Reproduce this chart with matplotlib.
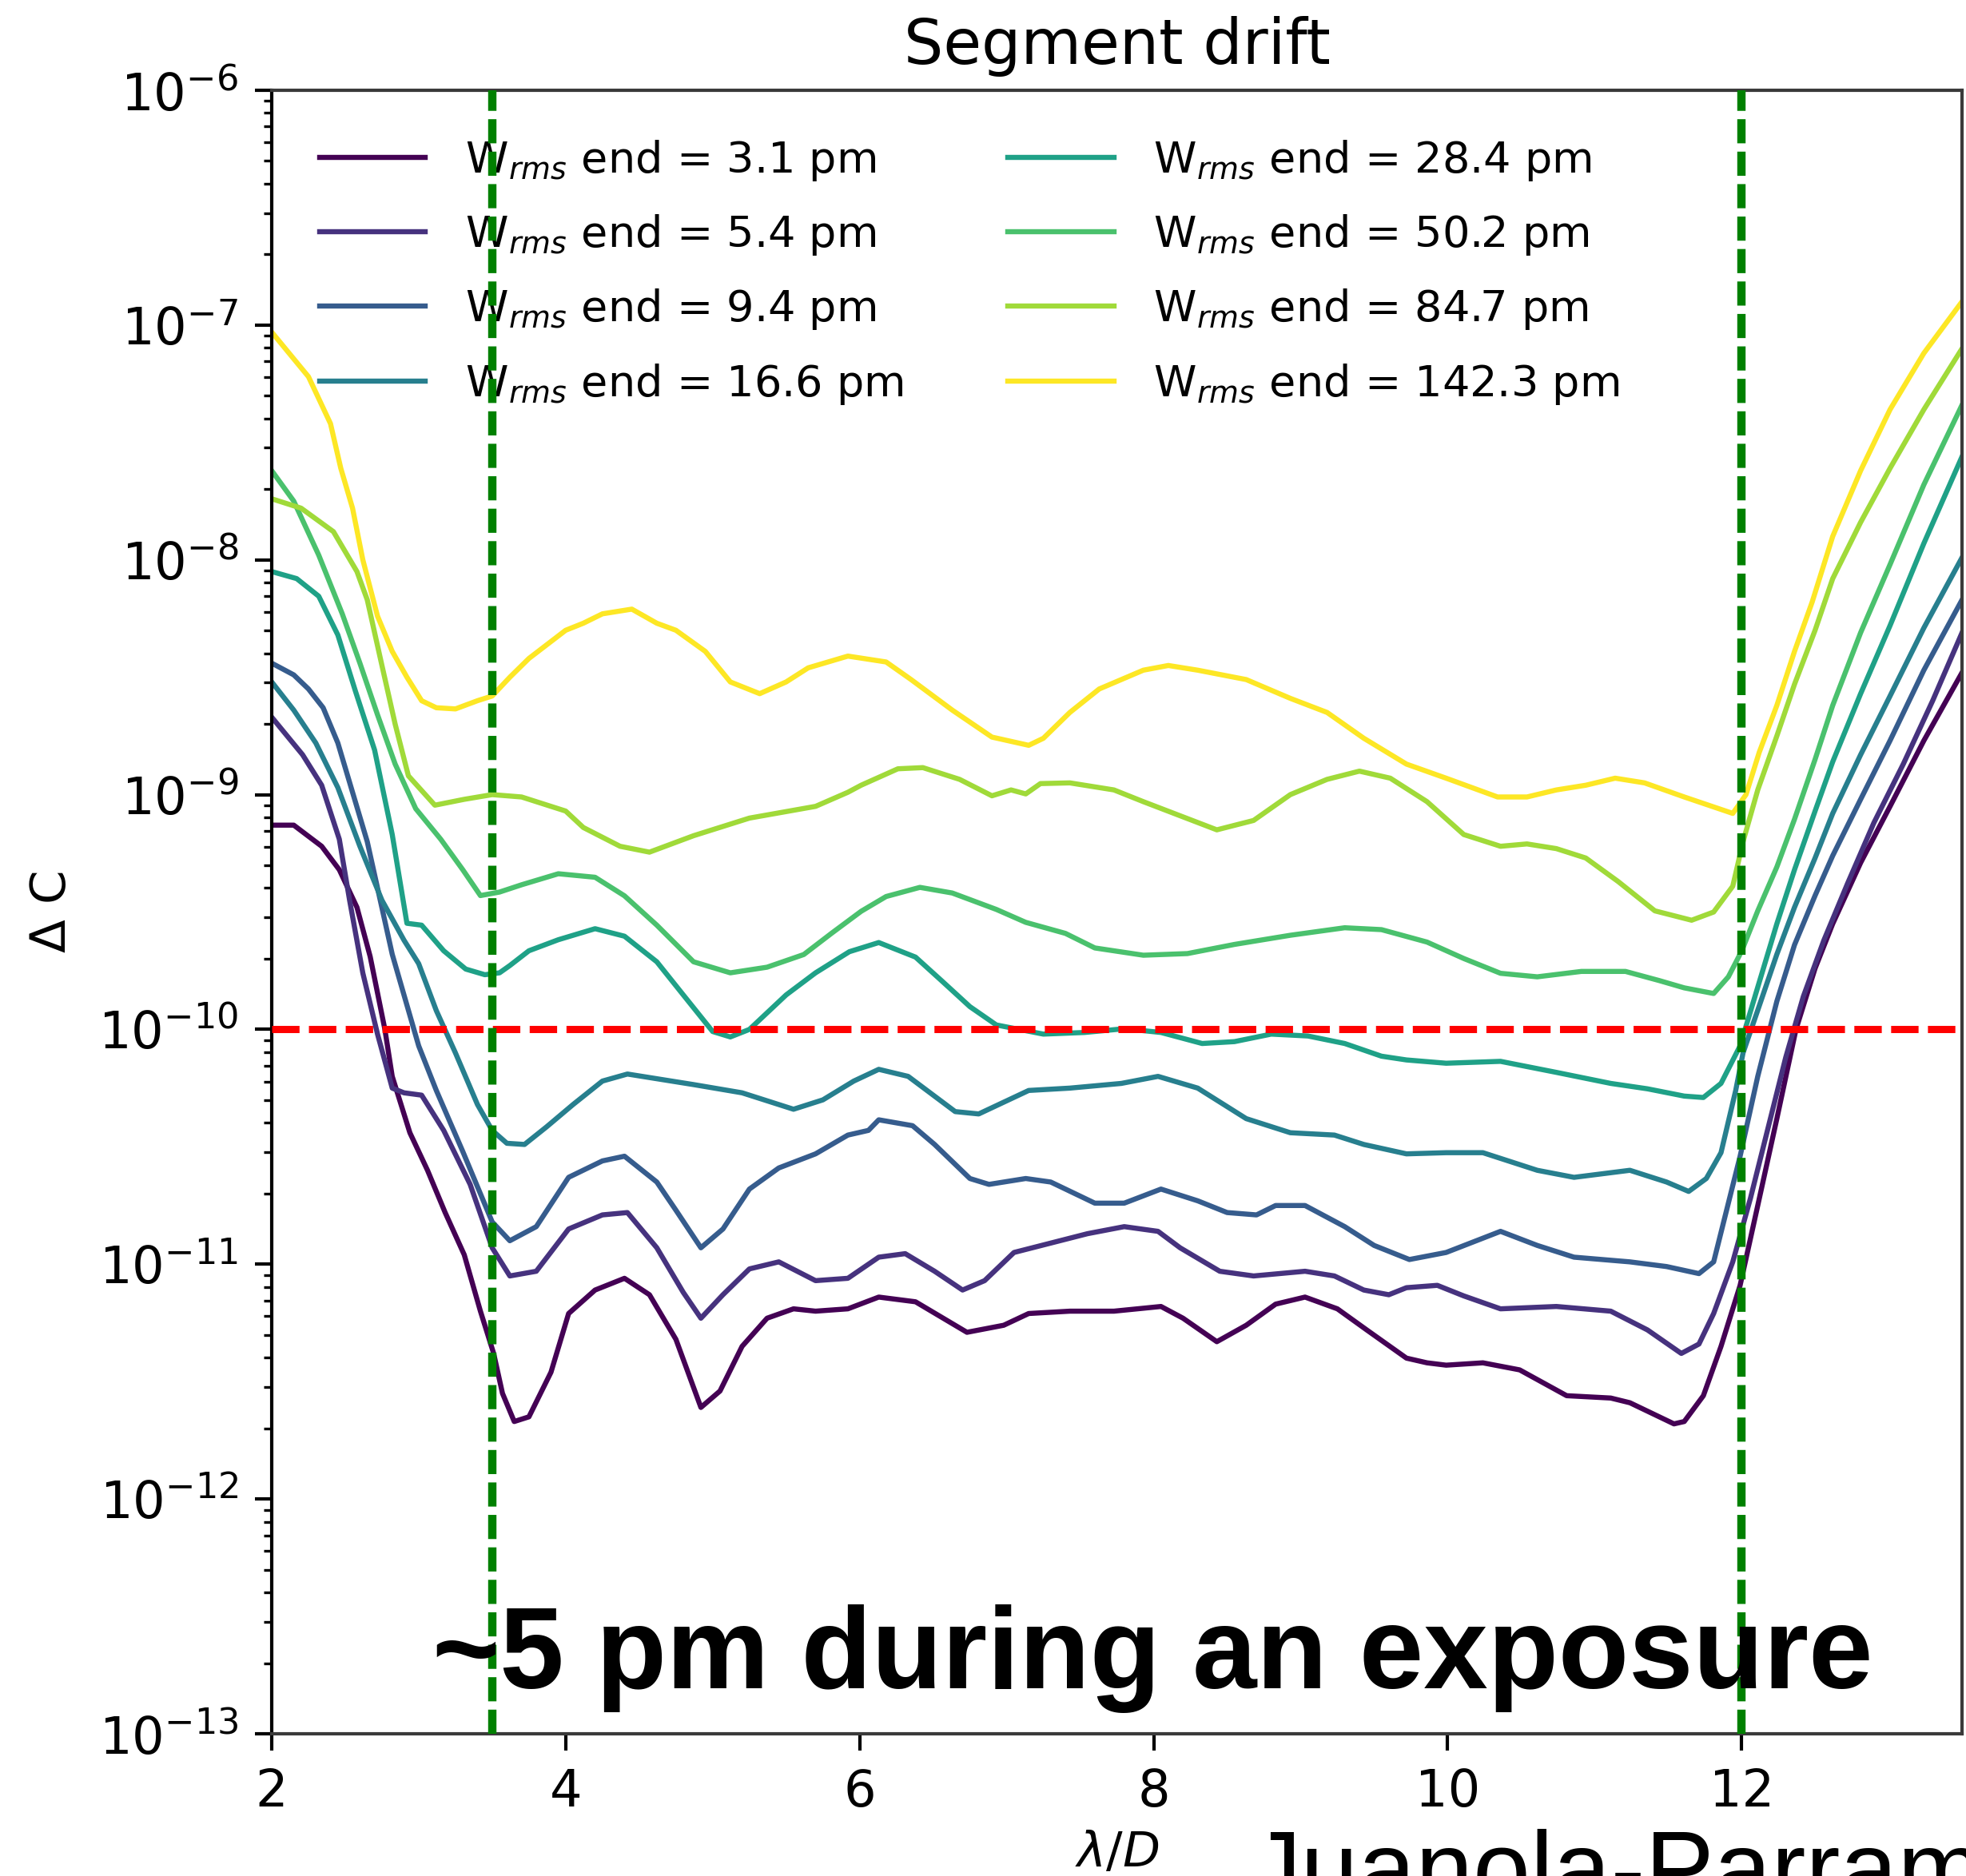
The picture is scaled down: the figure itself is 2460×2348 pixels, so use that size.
import numpy as np
import matplotlib
matplotlib.use("Agg")
import matplotlib.pyplot as plt

# ---------------- data (log10 of Delta C vs lambda/D) ----------------
x_3p1 = [2.0, 2.15, 2.34, 2.46, 2.58, 2.67, 2.77, 2.82, 2.94, 3.06,
         3.18, 3.31, 3.42, 3.51, 3.57, 3.65, 3.75, 3.9, 4.02, 4.2,
         4.4, 4.57, 4.75, 4.92, 5.05, 5.2, 5.37, 5.55, 5.7, 5.92,
         6.13, 6.38, 6.73, 6.98, 7.15, 7.43, 7.73, 8.05, 8.2, 8.43,
         8.63, 8.83, 9.03, 9.25, 9.45, 9.72, 9.86, 9.99, 10.24, 10.49,
         10.81, 11.11, 11.24, 11.54, 11.61, 11.74, 11.86, 11.99, 12.11, 12.24,
         12.37, 12.5, 12.62, 12.81, 13.01, 13.24, 13.5]
logdc_3p1 = [-9.13, -9.13, -9.22, -9.32, -9.48, -9.69, -10.0, -10.2, -10.44, -10.6,
             -10.78, -10.96, -11.2, -11.38, -11.55, -11.67, -11.65, -11.46, -11.21, -11.11,
             -11.06, -11.13, -11.32, -11.61, -11.54, -11.35, -11.23, -11.19, -11.2, -11.19,
             -11.14, -11.16, -11.29, -11.26, -11.21, -11.2, -11.2, -11.18, -11.23, -11.33,
             -11.26, -11.17, -11.14, -11.19, -11.28, -11.4, -11.42, -11.43, -11.42, -11.45,
             -11.56, -11.57, -11.59, -11.68, -11.67, -11.56, -11.35, -11.09, -10.75, -10.38,
             -10.0, -9.74, -9.55, -9.29, -9.05, -8.77, -8.48]

x_5p4 = [2.0, 2.21, 2.34, 2.46, 2.53, 2.62, 2.72, 2.82, 2.9, 3.02,
         3.17, 3.35, 3.5, 3.62, 3.8, 4.02, 4.25, 4.42, 4.62, 4.8,
         4.92, 5.07, 5.25, 5.45, 5.7, 5.92, 6.13, 6.31, 6.51, 6.7,
         6.85, 7.05, 7.3, 7.55, 7.8, 8.03, 8.18, 8.45, 8.68, 9.03,
         9.23, 9.43, 9.6, 9.72, 9.93, 10.11, 10.36, 10.74, 11.11, 11.36,
         11.59, 11.71, 11.81, 11.94, 12.06, 12.18, 12.3, 12.42, 12.56, 12.72,
         12.9, 13.1, 13.3, 13.5]
logdc_5p4 = [-8.67, -8.83, -8.96, -9.19, -9.45, -9.76, -10.02, -10.25, -10.27, -10.28,
             -10.43, -10.66, -10.93, -11.05, -11.03, -10.85, -10.79, -10.78, -10.93, -11.12,
             -11.23, -11.13, -11.02, -10.99, -11.07, -11.06, -10.97, -10.955, -11.03, -11.11,
             -11.07, -10.95, -10.91, -10.87, -10.84, -10.86, -10.93, -11.03, -11.05, -11.03,
             -11.05, -11.11, -11.13, -11.1, -11.09, -11.135, -11.19, -11.18, -11.2, -11.28,
             -11.38, -11.34, -11.21, -10.99, -10.72, -10.42, -10.12, -9.86, -9.62, -9.38,
             -9.12, -8.87, -8.6, -8.31]

x_9p4 = [2.0, 2.15, 2.25, 2.35, 2.45, 2.55, 2.65, 2.82, 3.0, 3.12,
         3.3, 3.5, 3.62, 3.8, 4.02, 4.25, 4.4, 4.62, 4.75, 4.92,
         5.07, 5.25, 5.45, 5.7, 5.92, 6.06, 6.13, 6.36, 6.51, 6.75,
         6.88, 7.13, 7.3, 7.6, 7.8, 8.05, 8.3, 8.5, 8.7, 8.83,
         9.03, 9.3, 9.5, 9.74, 9.99, 10.36, 10.61, 10.86, 11.24, 11.49,
         11.71, 11.81, 11.91, 11.99, 12.11, 12.24, 12.36, 12.5, 12.62, 12.81,
         13.01, 13.24, 13.5]
logdc_9p4 = [-8.44, -8.49, -8.55, -8.63, -8.78, -8.99, -9.2, -9.68, -10.07, -10.26,
             -10.52, -10.82, -10.9, -10.84, -10.63, -10.56, -10.54, -10.65, -10.77, -10.93,
             -10.85, -10.68, -10.59, -10.53, -10.45, -10.43, -10.385, -10.41, -10.49, -10.635,
             -10.66, -10.635, -10.65, -10.74, -10.74, -10.68, -10.73, -10.78, -10.79, -10.75,
             -10.75, -10.84, -10.92, -10.98, -10.95, -10.86, -10.92, -10.97, -10.99, -11.01,
             -11.04, -10.99, -10.74, -10.54, -10.2, -9.88, -9.64, -9.43, -9.26, -9.02,
             -8.77, -8.47, -8.17]

x_16p6 = [2.0, 2.15, 2.3, 2.45, 2.6, 2.75, 2.9, 3.0, 3.12, 3.25,
          3.4, 3.5, 3.6, 3.72, 3.87, 4.05, 4.25, 4.42, 4.62, 4.87,
          5.2, 5.55, 5.75, 5.96, 6.13, 6.33, 6.65, 6.81, 7.15, 7.43,
          7.78, 8.03, 8.3, 8.63, 8.93, 9.23, 9.43, 9.72, 9.99, 10.24,
          10.61, 10.86, 11.24, 11.49, 11.64, 11.76, 11.86, 11.96, 12.01, 12.12,
          12.24, 12.36, 12.5, 12.62, 12.81, 13.01, 13.24, 13.5]
logdc_16p6 = [-8.52, -8.64, -8.78, -8.97, -9.22, -9.45, -9.62, -9.72, -9.92, -10.1,
              -10.32, -10.43, -10.485, -10.49, -10.415, -10.32, -10.22, -10.19, -10.21, -10.235,
              -10.27, -10.34, -10.3, -10.22, -10.17, -10.2, -10.35, -10.36, -10.26, -10.25,
              -10.23, -10.2, -10.25, -10.38, -10.44, -10.45, -10.49, -10.53, -10.525, -10.525,
              -10.6, -10.63, -10.6, -10.65, -10.69, -10.635, -10.525, -10.26, -10.1, -9.9,
              -9.68, -9.48, -9.27, -9.08, -8.83, -8.58, -8.29, -7.99]

x_28p4 = [2.0, 2.17, 2.32, 2.45, 2.57, 2.7, 2.82, 2.92, 3.02, 3.17,
          3.32, 3.45, 3.55, 3.62, 3.75, 3.95, 4.2, 4.4, 4.62, 4.8,
          5.0, 5.12, 5.25, 5.5, 5.7, 5.93, 6.13, 6.38, 6.56, 6.75,
          6.93, 7.25, 7.53, 7.8, 8.05, 8.33, 8.55, 8.8, 9.05, 9.3,
          9.55, 9.72, 9.99, 10.36, 10.74, 11.11, 11.36, 11.61, 11.74, 11.86,
          11.99, 12.11, 12.24, 12.36, 12.5, 12.62, 12.81, 13.01, 13.24, 13.5]
logdc_28p4 = [-8.05, -8.08, -8.155, -8.32, -8.56, -8.81, -9.17, -9.548, -9.556, -9.665,
              -9.743, -9.767, -9.759, -9.728, -9.665, -9.618, -9.571, -9.603, -9.712, -9.853,
              -10.009, -10.032, -10.0, -9.853, -9.759, -9.669, -9.63, -9.692, -9.794, -9.903,
              -9.981, -10.02, -10.013, -9.997, -10.013, -10.06, -10.052, -10.02, -10.028, -10.06,
              -10.114, -10.13, -10.144, -10.136, -10.183, -10.23, -10.253, -10.284, -10.29, -10.23,
              -10.07, -9.82, -9.55, -9.32, -9.07, -8.86, -8.57, -8.28, -7.93, -7.56]

x_50p2 = [2.0, 2.15, 2.32, 2.48, 2.6, 2.72, 2.84, 2.98, 3.15, 3.3,
          3.42, 3.55, 3.7, 3.95, 4.2, 4.4, 4.62, 4.87, 5.12, 5.37,
          5.62, 5.81, 6.01, 6.18, 6.41, 6.63, 6.93, 7.13, 7.4, 7.6,
          7.93, 8.23, 8.55, 8.93, 9.3, 9.55, 9.86, 10.11, 10.36, 10.61,
          10.91, 11.21, 11.44, 11.61, 11.81, 11.91, 12.0, 12.11, 12.24, 12.36,
          12.5, 12.62, 12.81, 13.01, 13.24, 13.5]
logdc_50p2 = [-7.62, -7.75, -7.98, -8.23, -8.44, -8.66, -8.87, -9.06, -9.19, -9.32,
              -9.43, -9.415, -9.384, -9.337, -9.352, -9.431, -9.556, -9.712, -9.759, -9.735,
              -9.681, -9.59, -9.497, -9.434, -9.395, -9.419, -9.489, -9.544, -9.591, -9.653,
              -9.684, -9.677, -9.638, -9.599, -9.567, -9.575, -9.628, -9.698, -9.761, -9.776,
              -9.753, -9.753, -9.792, -9.823, -9.847, -9.776, -9.667, -9.495, -9.308, -9.105,
              -8.85, -8.62, -8.31, -8.02, -7.68, -7.34]

x_84p7 = [2.0, 2.2, 2.42, 2.58, 2.65, 2.75, 2.84, 2.93, 3.11, 3.31,
          3.5, 3.7, 4.0, 4.12, 4.37, 4.57, 4.87, 5.25, 5.7, 5.92,
          6.01, 6.26, 6.43, 6.68, 6.9, 7.03, 7.13, 7.23, 7.43, 7.73,
          7.93, 8.18, 8.43, 8.68, 8.93, 9.18, 9.4, 9.61, 9.86, 10.11,
          10.36, 10.54, 10.74, 10.94, 11.16, 11.41, 11.66, 11.81, 11.94, 12.01,
          12.11, 12.24, 12.36, 12.5, 12.62, 12.81, 13.01, 13.24, 13.5]
logdc_84p7 = [-7.74, -7.78, -7.88, -8.05, -8.17, -8.45, -8.7, -8.92, -9.045, -9.02,
              -9.0, -9.01, -9.07, -9.14, -9.22, -9.245, -9.175, -9.1, -9.05, -8.99,
              -8.96, -8.89, -8.885, -8.935, -9.005, -8.98, -8.997, -8.953, -8.95, -8.98,
              -9.03, -9.09, -9.15, -9.11, -9.0, -8.935, -8.9, -8.93, -9.03, -9.17,
              -9.22, -9.21, -9.23, -9.27, -9.37, -9.495, -9.535, -9.5, -9.39, -9.2,
              -8.98, -8.75, -8.53, -8.3, -8.08, -7.84, -7.61, -7.36, -7.1]

x_142p3 = [2.0, 2.25, 2.4, 2.47, 2.55, 2.62, 2.72, 2.82, 2.92, 3.02,
           3.12, 3.25, 3.4, 3.5, 3.62, 3.75, 4.0, 4.12, 4.25, 4.45,
           4.62, 4.75, 4.95, 5.12, 5.32, 5.5, 5.65, 5.92, 6.18, 6.35,
           6.63, 6.9, 7.15, 7.25, 7.43, 7.63, 7.93, 8.1, 8.3, 8.63,
           8.93, 9.18, 9.43, 9.72, 9.99, 10.34, 10.54, 10.74, 10.94, 11.14,
           11.34, 11.61, 11.94, 12.03, 12.12, 12.24, 12.36, 12.48, 12.62, 12.81,
           13.01, 13.24, 13.5]
logdc_142p3 = [-7.03, -7.22, -7.42, -7.61, -7.78, -8.0, -8.24, -8.39, -8.5, -8.6,
               -8.63, -8.635, -8.6, -8.58, -8.5, -8.42, -8.3, -8.27, -8.23, -8.21,
               -8.27, -8.3, -8.39, -8.52, -8.57, -8.52, -8.46, -8.41, -8.435, -8.51,
               -8.64, -8.755, -8.79, -8.76, -8.65, -8.55, -8.47, -8.45, -8.47, -8.51,
               -8.59, -8.65, -8.76, -8.87, -8.93, -9.01, -9.01, -8.98, -8.96, -8.93,
               -8.95, -9.01, -9.08, -9.0, -8.82, -8.62, -8.39, -8.18, -7.9, -7.62,
               -7.36, -7.12, -6.9]

wrms_end_pm = ["3.1", "5.4", "9.4", "16.6", "28.4", "50.2", "84.7", "142.3"]
x_series = [x_3p1, x_5p4, x_9p4, x_16p6, x_28p4, x_50p2, x_84p7, x_142p3]
logdc_series = [logdc_3p1, logdc_5p4, logdc_9p4, logdc_16p6,
                logdc_28p4, logdc_50p2, logdc_84p7, logdc_142p3]

dark_hole_edges = [3.5, 12.0]
contrast_target = 1e-10
x_ticks = [2, 4, 6, 8, 10, 12]

# ---------------- figure ----------------
fig = plt.figure(figsize=(24.6, 23.48), dpi=100)
ax = fig.add_axes([0.1382, 0.0758, 0.8598, 0.8761])

colors = plt.cm.viridis(np.linspace(0, 1, len(x_series)))
for xs, ls_, w, c in zip(x_series, logdc_series, wrms_end_pm, colors):
    ax.plot(xs, 10.0 ** np.array(ls_), color=c, lw=4.6,
            solid_joinstyle="round", label=r"W$_{rms}$ end = " + w + " pm")

ax.set_yscale("log")
ax.set_xlim(2, 13.5)
ax.set_ylim(1e-13, 1e-6)
ax.set_xticks(x_ticks)

for xv in dark_hole_edges:
    ax.axvline(xv, color="green", lw=7.5, ls=(0, (2.9, 1.0)), zorder=6)
ax.axhline(contrast_target, color="red", lw=6.5, ls=(0, (3.8, 1.3)), zorder=5)

ax.tick_params(which="major", length=15, width=3, labelsize=46, pad=15)
ax.tick_params(which="minor", length=7.5, width=2.4)
for s in ax.spines.values():
    s.set_linewidth(3)
    s.set_color("#3a3a3a")
ax.spines["left"].set_color("black")

ax.set_title("Segment drift", fontsize=56, pad=24)
ax.set_xlabel(r"$\lambda/D$", fontsize=44, labelpad=12)
ax.set_ylabel(r"$\Delta$ C", fontsize=44, labelpad=20)

ax.legend(ncol=2, loc="upper left", frameon=False, fontsize=39,
          handlelength=2.45, handletextpad=0.92, columnspacing=2.4,
          labelspacing=0.69, borderaxespad=0.7)

fig.text(541 / 2460, 1 - 2113 / 2348, "~5 pm during an exposure",
         fontsize=104, fontweight="bold", family="Liberation Sans",
         ha="left", va="baseline", zorder=10)
fig.text(1564 / 2460, 1 - 2383 / 2348, "Juanola-Parramon",
         fontsize=93, family="Liberation Sans", ha="left", va="baseline")

fig.savefig("out.png", dpi=100)
